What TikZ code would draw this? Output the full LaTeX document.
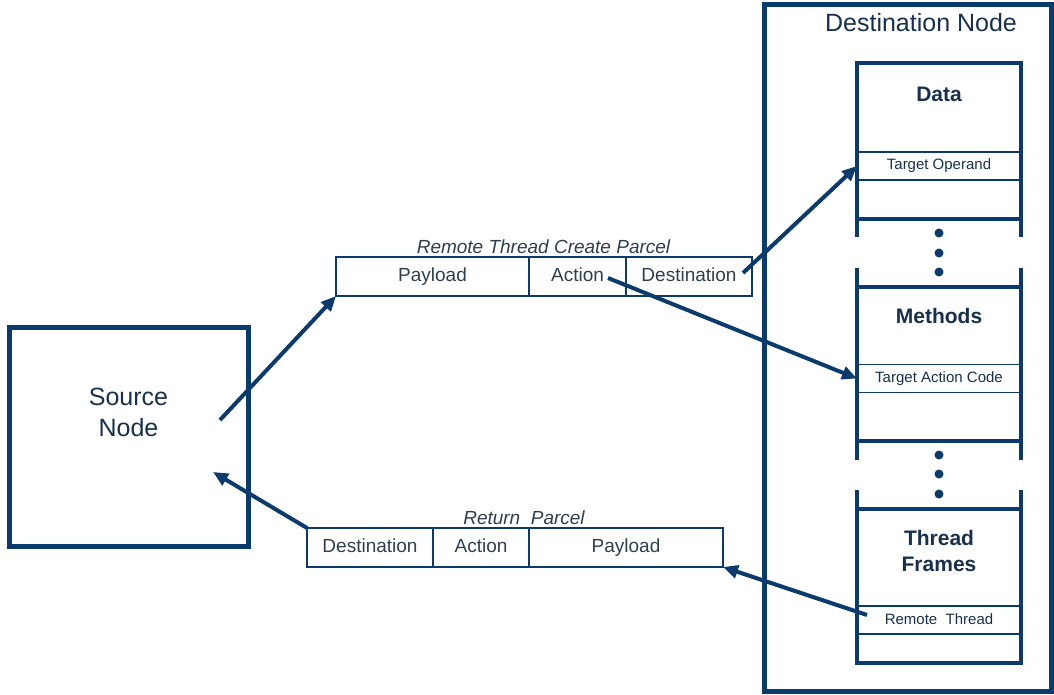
\documentclass[tikz,border=0pt]{standalone}
\usepackage{fontspec}
\setmainfont{Liberation Sans}
\usetikzlibrary{arrows.meta,positioning}
\definecolor{navy}{HTML}{0B3A6C}
\definecolor{inknavy}{HTML}{18304F}
\definecolor{inkgray}{HTML}{2E3E50}
\tikzset{
  box/.style={draw=navy, line width=5pt, inner sep=0pt, outer sep=0pt},
  cell/.style={draw=navy, line width=2.5pt, inner sep=0pt, outer sep=0pt, minimum height=39pt, text height=13.5pt, text depth=4pt, text=inkgray, font=\fontsize{19}{23}\selectfont},
  slot/.style={draw=navy, line width=1.5pt, inner sep=0pt, outer sep=0pt, minimum width=164pt, minimum height=28pt, text height=11pt, text depth=3pt, text=inknavy, font=\fontsize{15}{18}\selectfont},
  caption/.style={text=inkgray, inner sep=0pt, font=\fontsize{19}{23}\selectfont\itshape},
  title/.style={text=inknavy, inner sep=0pt, align=center, font=\fontsize{25}{31}\selectfont},
  head/.style={text=inknavy, inner sep=0pt, align=center, font=\fontsize{21}{26}\selectfont\bfseries},
  wall/.style={navy, line width=4pt},
  flow/.style={navy, line width=4pt, -{Triangle[length=15pt,width=13pt]}}
}
\begin{document}
\begin{tikzpicture}[x=1pt, y=-1pt]
\useasboundingbox (0,0) rectangle (1054,695);

% source side
\node[box, minimum width=239pt, minimum height=219pt] (src) at (128.5,436.5) {};
\node[title] (srclbl) at (128.5,412) {Source\\Node};

% destination side
\node[box, minimum width=287pt, minimum height=686pt] (dest) at (907.5,348) {};
\node[title] (destlbl) at (921,23) {Destination Node};

\draw[wall] (857,237)--(857,63)--(1021,63)--(1021,237) (857,219)--(1021,219);
\draw[wall] (857,268)--(857,460) (1021,268)--(1021,460) (857,287)--(1021,287) (857,441)--(1021,441);
\draw[wall] (857,490)--(857,663)--(1021,663)--(1021,490) (857,509)--(1021,509);
\foreach \y in {233,253,272,455,474,494}
{
    \fill[navy] (939,\y) circle(4.5pt);
}

\node[head] (datalbl) at (939,94) {Data};
\node[head] (methlbl) at (939,316) {Methods};
\node[head] (thrlbl) at (939,551) {Thread\\Frames};
\node[slot] (operand) at (939,166) {Target Operand};
\node[slot] (actcode) at (939,378.5) {Target Action Code};
\node[slot] (remthr) at (939,620) {Remote\ \ Thread};

% parcels
\node[caption] (rtitle) at (543.5,247) {Remote Thread Create Parcel};
\node[cell, minimum width=193pt] (rpay) at (432.5,276.5) {Payload};
\node[cell, minimum width=97pt, right=0pt of rpay] (ract) {Action};
\node[cell, minimum width=126pt, right=0pt of ract] (rdest) {Destination};

\node[caption] (ttitle) at (524,518) {Return\ \ Parcel};
\node[cell, minimum width=126pt] (tdest) at (370,547.5) {Destination};
\node[cell, minimum width=96pt, right=0pt of tdest] (tact) {Action};
\node[cell, minimum width=194pt, right=0pt of tact] (tpay) {Payload};

\coordinate (srcout) at (220,420);
\coordinate (srcin) at (213,472);
\coordinate (destout) at (743,273);
\coordinate (actout) at (608,278);
\coordinate (throut) at (867,615);

\draw[flow] (srcout) -- (rpay.south west);
\draw[flow] (destout) -- (operand.west);
\draw[flow] (actout) -- (actcode.west);
\draw[flow] (throut) -- (tpay.south east);
\draw[flow] (tdest.north west) -- (srcin);

\end{tikzpicture}
\end{document}
